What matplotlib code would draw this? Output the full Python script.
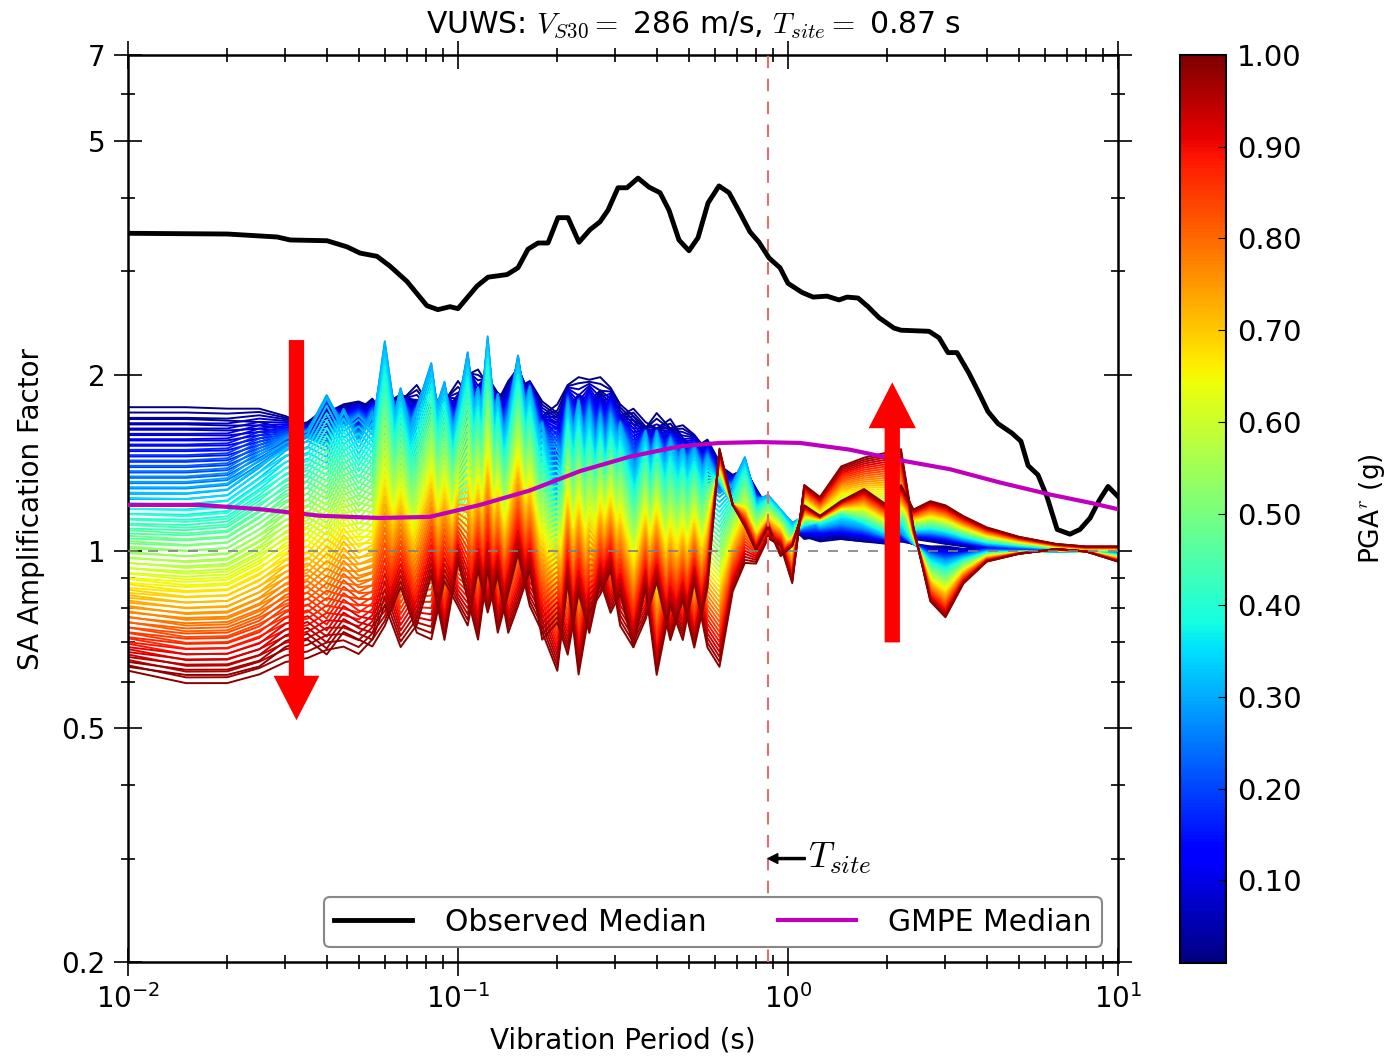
import numpy as np
import matplotlib
matplotlib.use('Agg')
import matplotlib.pyplot as plt
from matplotlib import colors, ticker

plt.rcParams['font.family'] = ['DejaVu Sans']
plt.rcParams['mathtext.fontset'] = 'cm'
plt.rcParams['axes.linewidth'] = 1.8

#Observed median (black) ------------------------------------------#
obs_T = [0.01, 0.02, 0.0283, 0.031, 0.0401, 0.0461, 0.0505, 0.0568, 0.0622, 0.0701,
         0.0805, 0.0869, 0.0946, 0.100, 0.1142, 0.1233, 0.1408, 0.152, 0.163, 0.1748,
         0.1874, 0.2009, 0.2154, 0.2326, 0.2512, 0.2693, 0.2848, 0.3054, 0.3251, 0.3512,
         0.3792, 0.4094, 0.4359, 0.4673, 0.5012, 0.5337, 0.5724, 0.6178, 0.6626, 0.7153,
         0.7668, 0.8167, 0.8757, 0.9458, 1.0, 1.103, 1.191, 1.313, 1.427, 1.51,
         1.63, 1.748, 1.887, 2.095, 2.2, 2.675, 2.87, 3.053, 3.252, 3.537,
         3.792, 4.037, 4.33, 4.77, 5.08, 5.34, 5.72, 6.09, 6.54, 7.15,
         7.67, 8.23, 8.76, 9.33, 10.0]
obs_amp = [3.48, 3.47, 3.43, 3.39, 3.38, 3.30, 3.22, 3.18, 3.06, 2.88,
           2.62, 2.58, 2.61, 2.59, 2.83, 2.93, 2.96, 3.04, 3.27, 3.35,
           3.35, 3.70, 3.70, 3.36, 3.53, 3.64, 3.81, 4.16, 4.16, 4.32,
           4.17, 4.08, 3.81, 3.39, 3.25, 3.42, 3.92, 4.19, 4.08, 3.77,
           3.50, 3.36, 3.16, 3.04, 2.86, 2.76, 2.71, 2.72, 2.68, 2.71,
           2.70, 2.61, 2.50, 2.40, 2.38, 2.37, 2.31, 2.18, 2.18, 2.01,
           1.86, 1.73, 1.65, 1.59, 1.54, 1.40, 1.35, 1.24, 1.09, 1.07,
           1.09, 1.14, 1.22, 1.29, 1.24]

#GMPE median (magenta) --------------------------------------------#
gmpe_T = [0.01, 0.0165, 0.0251, 0.0382, 0.058, 0.0822, 0.1166, 0.1652, 0.2343, 0.332,
          0.4708, 0.622, 0.8224, 1.087, 1.54, 2.18, 3.10, 4.39, 6.22, 8.23, 10.0]
gmpe_amp = [1.20, 1.20, 1.18, 1.15, 1.14, 1.145, 1.20, 1.27, 1.37, 1.45,
            1.51, 1.53, 1.535, 1.53, 1.49, 1.43, 1.38, 1.31, 1.25, 1.21, 1.18]

#Site response curves, two input motions, read at PGA 0.01 / 0.3 / 1.0 g
period = [0.010, 0.015, 0.020, 0.025, 0.030, 0.035, 0.040, 0.045, 0.050, 0.055,
          0.060, 0.067, 0.075, 0.083, 0.091, 0.100, 0.107, 0.115, 0.123, 0.132,
          0.142, 0.152, 0.165, 0.180, 0.200, 0.215, 0.232, 0.250, 0.270, 0.290,
          0.310, 0.340, 0.370, 0.400, 0.440, 0.480, 0.520, 0.570, 0.620, 0.680,
          0.740, 0.800, 0.870, 0.950, 1.030, 1.120, 1.250, 1.450, 1.700, 2.000,
          2.200, 2.400, 2.700, 3.000, 3.400, 4.000, 5.000, 6.500, 8.000, 10.00]

pga_anchor = [0.01, 0.3, 1.0]

motA_low = [1.76, 1.76, 1.75, 1.75, 1.70, 1.64, 1.72, 1.78, 1.80, 1.76,
            1.78, 1.85, 1.80, 1.88, 1.72, 1.85, 2.00, 2.04, 1.92, 1.80,
            1.95, 2.05, 1.85, 1.70, 1.78, 1.92, 1.98, 1.96, 1.98, 1.90,
            1.78, 1.70, 1.62, 1.72, 1.62, 1.64, 1.58, 1.48, 1.40, 1.35,
            1.38, 1.28, 1.18, 1.12, 1.10, 1.05, 1.06, 1.05, 1.04, 1.04,
            1.04, 1.03, 1.02, 1.02, 1.01, 1.02, 1.01, 1.00, 1.00, 1.00]
motA_mid = [1.30, 1.30, 1.32, 1.45, 1.55, 1.60, 1.85, 1.62, 1.70, 1.60,
            2.30, 1.45, 1.75, 2.10, 1.40, 1.75, 2.19, 1.50, 2.34, 1.45,
            1.70, 2.16, 1.55, 1.65, 1.25, 1.80, 1.40, 1.75, 1.35, 1.70,
            1.50, 1.35, 1.60, 1.25, 1.55, 1.35, 1.50, 1.30, 1.25, 1.30,
            1.45, 1.22, 1.25, 1.18, 1.12, 1.15, 1.10, 1.12, 1.10, 1.08,
            1.08, 1.03, 0.98, 0.96, 0.98, 1.00, 1.00, 1.00, 1.00, 0.99]
motA_high = [0.62, 0.59, 0.59, 0.61, 0.64, 0.65, 0.67, 0.68, 0.66, 0.70,
             0.80, 0.68, 0.74, 0.90, 0.70, 0.95, 0.82, 0.70, 0.92, 0.72,
             0.84, 0.98, 0.80, 0.72, 0.62, 0.88, 0.61, 0.78, 0.84, 0.92,
             0.74, 0.68, 0.86, 0.61, 0.80, 0.70, 0.88, 0.68, 0.63, 0.85,
             0.95, 0.95, 1.05, 1.02, 0.88, 1.30, 1.24, 1.40, 1.45, 1.48,
             1.50, 1.10, 0.82, 0.77, 0.88, 0.96, 0.99, 1.01, 1.00, 0.96]

motB_low = [1.68, 1.68, 1.67, 1.66, 1.62, 1.66, 1.76, 1.70, 1.74, 1.82,
            1.70, 1.80, 1.92, 1.75, 1.80, 1.95, 1.85, 1.90, 1.98, 1.86,
            1.82, 1.90, 1.95, 1.80, 1.72, 1.75, 1.85, 1.80, 1.88, 1.82,
            1.70, 1.75, 1.66, 1.62, 1.68, 1.56, 1.50, 1.55, 1.42, 1.30,
            1.25, 1.22, 1.15, 1.10, 1.08, 1.06, 1.04, 1.05, 1.04, 1.03,
            1.04, 1.05, 1.04, 1.03, 1.02, 1.01, 1.00, 1.00, 1.00, 1.00]
motB_mid = [1.24, 1.24, 1.26, 1.38, 1.50, 1.56, 1.50, 1.75, 1.55, 1.72,
            1.45, 1.90, 1.45, 1.65, 1.95, 1.40, 1.60, 1.90, 1.45, 1.85,
            1.40, 1.55, 1.90, 1.50, 1.50, 1.40, 1.80, 1.35, 1.70, 1.35,
            1.65, 1.40, 1.30, 1.60, 1.30, 1.50, 1.25, 1.45, 1.30, 1.20,
            1.28, 1.15, 1.18, 1.10, 1.08, 1.10, 1.12, 1.15, 1.10, 1.06,
            1.10, 1.08, 1.08, 1.07, 1.05, 1.03, 1.02, 1.01, 1.00, 1.00]
motB_high = [0.63, 0.61, 0.61, 0.63, 0.68, 0.70, 0.66, 0.72, 0.70, 0.68,
             0.74, 0.86, 0.72, 0.70, 0.88, 0.80, 0.74, 0.92, 0.78, 0.90,
             0.72, 0.80, 0.92, 0.70, 0.75, 0.66, 0.84, 0.72, 0.88, 0.78,
             0.84, 0.68, 0.76, 0.88, 0.70, 0.82, 0.68, 0.86, 1.50, 1.20,
             1.10, 1.00, 1.10, 0.98, 1.02, 1.20, 1.15, 1.22, 1.28, 1.20,
             1.30, 1.18, 1.22, 1.20, 1.15, 1.10, 1.06, 1.03, 1.02, 1.02]

pga_levels = [0.01, 0.03, 0.05, 0.07, 0.09, 0.11, 0.13, 0.15, 0.17, 0.19,
              0.21, 0.23, 0.25, 0.27, 0.29, 0.31, 0.33, 0.35, 0.37, 0.39,
              0.41, 0.43, 0.45, 0.47, 0.49, 0.51, 0.53, 0.55, 0.57, 0.59,
              0.61, 0.63, 0.65, 0.67, 0.69, 0.71, 0.73, 0.75, 0.77, 0.79,
              0.81, 0.83, 0.85, 0.87, 0.89, 0.91, 0.93, 0.95, 0.97, 0.99]

colorbar_ticks = [0.1, 0.2, 0.3, 0.4, 0.5, 0.6, 0.7, 0.8, 0.9, 1.0]
yticks = [0.2, 0.5, 1, 2, 5, 7]
ytick_labels = ['0.2', '0.5', '1', '2', '5', '7']
T_site = 0.87


def curve_at(pga, low, mid, high):
    #log-space blend between the read-off curves
    low, mid, high = np.log(low), np.log(mid), np.log(high)
    if pga <= pga_anchor[1]:
        w = (pga - pga_anchor[0])/(pga_anchor[1] - pga_anchor[0])
        v = (1 - w)*low + w*mid
    else:
        w = (pga - pga_anchor[1])/(pga_anchor[2] - pga_anchor[1])
        v = (1 - w)*mid + w*high
    return np.exp(v)


#Plot setup -------------------------------------------------------#
fig = plt.figure(figsize=(13.86, 10.56), dpi=100)
ax = fig.add_axes([128/1386, 94/1056, 990/1386, 907/1056])
cax = fig.add_axes([1180/1386, 93/1056, 46/1386, 908/1056])

norm = colors.Normalize(vmin=0.01, vmax=1.0)
cmap = plt.get_cmap('jet')

for g in pga_levels:
    ax.plot(period, curve_at(g, motA_low, motA_mid, motA_high), color=cmap(norm(g)), lw=1.4, zorder=2)
    ax.plot(period, curve_at(g, motB_low, motB_mid, motB_high), color=cmap(norm(g)), lw=1.4, zorder=2)

obs_line, = ax.plot(obs_T, obs_amp, color='k', lw=3.5, zorder=4, label='Observed Median')
gmpe_line, = ax.plot(gmpe_T, gmpe_amp, color='m', lw=3.0, zorder=4, label='GMPE Median')

ax.axhline(1.0, color='gray', ls=(0, (6, 6)), lw=1.2, zorder=3)
ax.axvline(T_site, color='#e07070', ls=(0, (6, 5)), lw=1.5, zorder=3)

ax.annotate(r'$T_{site}$', xy=(T_site, 0.30), xytext=(1.15, 0.30), fontsize=26,
            va='center', ha='left',
            arrowprops=dict(facecolor='k', edgecolor='k', width=1.5, headwidth=7,
                            headlength=7, shrink=0.0))

#big red arrows
ax.annotate('', xy=(0.0324, 0.516), xytext=(0.0324, 2.29),
            arrowprops=dict(facecolor='red', edgecolor='none', width=11, headwidth=33,
                            headlength=32, shrink=0.0), zorder=6)
ax.annotate('', xy=(2.07, 1.94), xytext=(2.07, 0.70),
            arrowprops=dict(facecolor='red', edgecolor='none', width=11, headwidth=34,
                            headlength=33, shrink=0.0), zorder=6)

ax.set_xscale('log')
ax.set_yscale('log')
ax.set_xlim(0.01, 10)
ax.set_ylim(0.2, 7)
ax.yaxis.set_major_locator(ticker.FixedLocator(yticks))
ax.yaxis.set_major_formatter(ticker.FixedFormatter(ytick_labels))
ax.yaxis.set_minor_formatter(ticker.NullFormatter())
ax.tick_params(which='both', direction='inout', top=True, right=True, labelsize=20, width=1.2)
ax.tick_params(which='major', length=20, pad=6)
ax.tick_params(which='minor', length=10)

ax.set_xlabel('Vibration Period (s)', fontsize=20, labelpad=9)
ax.set_ylabel('SA Amplification Factor', fontsize=20, labelpad=12)
fig.suptitle(r'VUWS: $V_{S30} =$ 286 m/s, $T_{site} =$ 0.87 s', fontsize=21.5,
             x=0.5, y=1 - 25/1056, va='center')

leg = ax.legend(handles=[obs_line, gmpe_line], loc='lower center', bbox_to_anchor=(0.591, 0.0165),
                ncol=2, fontsize=21.5, handlelength=2.6, handletextpad=1.1, columnspacing=2.4,
                fancybox=True, framealpha=1.0, borderpad=0.35, borderaxespad=0.0)
leg.get_frame().set_edgecolor('#888888')
leg.get_frame().set_linewidth(1.5)
leg.set_zorder(7)

sm = plt.cm.ScalarMappable(norm=norm, cmap=cmap)
cb = fig.colorbar(sm, cax=cax, ticks=colorbar_ticks, format='%.2f')
cb.outline.set_linewidth(1.5)
cax.tick_params(direction='in', length=6, labelsize=21, pad=8)
cb.set_label(r'PGA$^r$ (g)', fontsize=19, labelpad=40)

fig.savefig('out.png', dpi=100)
